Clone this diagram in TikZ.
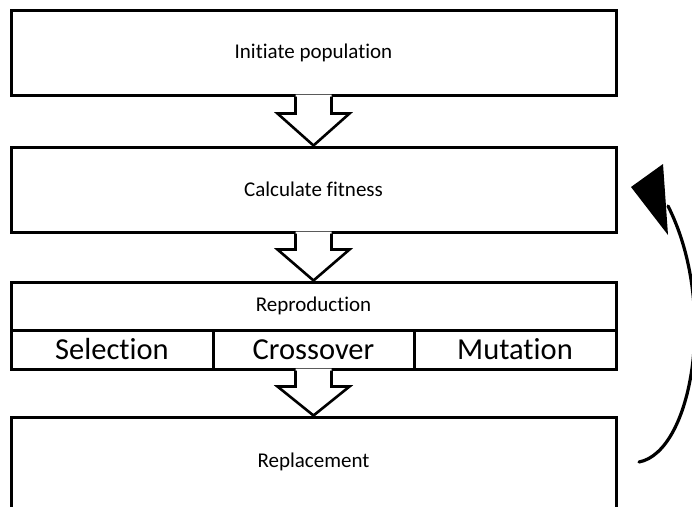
\documentclass[tikz,border=0pt]{standalone}
\usepackage{fontspec}
\setmainfont[Ligatures=NoCommon]{Carlito}
\usetikzlibrary{calc}
\tikzset{
  box/.style={draw=black, line width=3pt, fill=white, inner sep=0pt, minimum width=605pt},
  smalltext/.style={font=\fontsize{21}{25}\selectfont},
  bigtext/.style={font=\fontsize{30.5}{36}\selectfont},
  arrowline/.style={draw=black, line width=2.6pt, line join=miter},
  loopline/.style={draw=black, line width=3.2pt, line cap=round},
}
\newcommand\blockarrow[3]{%
  \fill[white] ($(#1.south)+(-18,-2)$) -- ($(#1.south)+(-18,#3)$) -- ($(#1.south)+(-36,#3)$) -- (#2.north) -- ($(#1.south)+(36,#3)$) -- ($(#1.south)+(18,#3)$) -- ($(#1.south)+(18,-2)$) -- cycle;
  \draw[arrowline] ($(#1.south)+(-18,0)$) -- ($(#1.south)+(-18,#3)$) -- ($(#1.south)+(-36,#3)$) -- (#2.north) -- ($(#1.south)+(36,#3)$) -- ($(#1.south)+(18,#3)$) -- ($(#1.south)+(18,0)$);
}
\begin{document}
\begin{tikzpicture}[x=1pt, y=-1pt]
\clip (0,0) rectangle (692,506);
\fill[white] (0,0) rectangle (692,506);
% boxes
\node[box, smalltext, minimum height=85pt] (init) at (313.5,52.5) {\raisebox{-1.5pt}{Initiate population}};
\node[box, smalltext, minimum height=85pt] (fit) at (313.5,189.5) {\raisebox{-1pt}{Calculate fitness}};
\node[box, smalltext, minimum height=48pt] (rep) at (313.5,306) {Reproduction};
\node[box, bigtext, minimum width=202pt, minimum height=39pt] (sel) at (112,349.5) {Selection};
\node[box, bigtext, minimum width=201pt, minimum height=39pt] (cro) at (313.5,349.5) {Crossover};
\node[box, bigtext, minimum width=202pt, minimum height=39pt] (mut) at (515,349.5) {Mutation};
\node[box, minimum height=120pt, label={[smalltext, yshift=15pt]center:Replacement}] (repl) at (313.5,477) {};
% block arrows
\blockarrow{init}{fit}{17}
\blockarrow{fit}{rep}{16}
\blockarrow{cro}{repl}{16}
% loop arrow
\coordinate (ls) at (639,462);
\coordinate (le) at (668,206);
\draw[loopline] (ls) .. controls (692,452) and (718,305) .. (le);
\fill[black] (631,187) -- (663,164) -- (668,235) -- cycle;
\end{tikzpicture}
\end{document}
